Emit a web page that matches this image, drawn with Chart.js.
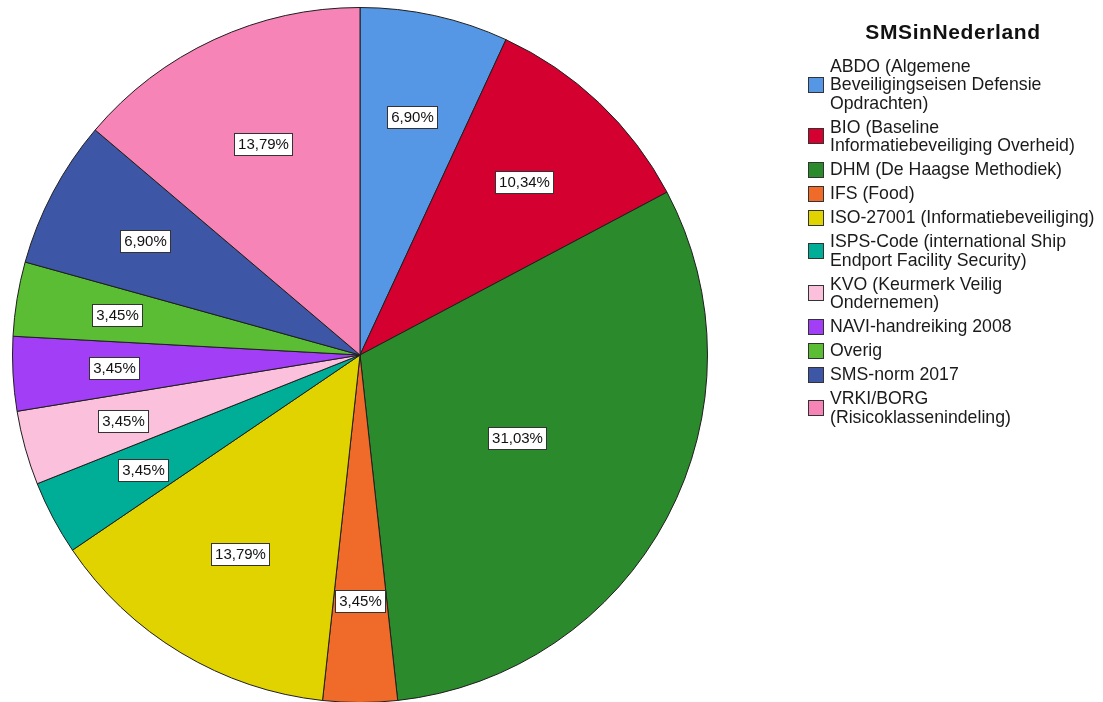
<!DOCTYPE html>
<html>
<head>
<meta charset="utf-8">
<script src="https://cdn.jsdelivr.net/npm/chart.js@4.4.1/dist/chart.umd.min.js"></script>
<style>
  html, body { margin: 0; padding: 0; background: #fff; overflow: hidden; }
  body { width: 1103px; height: 702px; position: relative; font-family: Arial, "Liberation Sans", sans-serif; }
  #wrap { position: absolute; left: 0; top: 0; width: 1103px; height: 720px; }
  #legendTitle {
    position: absolute; left: 803px; width: 300px; top: 20px;
    text-align: center; font-weight: bold; font-size: 21px; line-height: 24px;
    letter-spacing: 0.6px; color: #111;
  }
  #legend { position: absolute; left: 808px; top: 54px; width: 295px; }
  .item {
    position: relative; padding: 2.75px 0 2.75px 22px;
    font-size: 17.7px; line-height: 18.5px; color: #1a1a1a; white-space: nowrap;
  }
  .swatch {
    position: absolute; left: 0; top: 50%; width: 14px; height: 14px;
    margin-top: -8px; border: 1px solid #333;
  }
</style>
</head>
<body>
<div id="wrap"><canvas id="pie" width="1103" height="720"></canvas></div>
<div id="legendTitle">SMSinNederland</div>
<div id="legend"></div>

<script>
// categorieën (regels zoals in de legenda) en percentages
const categories = [
  ['ABDO (Algemene', 'Beveiligingseisen Defensie', 'Opdrachten)'],
  ['BIO (Baseline', 'Informatiebeveiliging Overheid)'],
  ['DHM (De Haagse Methodiek)'],
  ['IFS (Food)'],
  ['ISO-27001 (Informatiebeveiliging)'],
  ['ISPS-Code (international Ship', 'Endport Facility Security)'],
  ['KVO (Keurmerk Veilig', 'Ondernemen)'],
  ['NAVI-handreiking 2008'],
  ['Overig'],
  ['SMS-norm 2017'],
  ['VRKI/BORG', '(Risicoklassenindeling)']
];
const percentages = [6.90, 10.34, 31.03, 3.45, 13.79, 3.45, 3.45, 3.45, 3.45, 6.90, 13.79];
const legendTitle = 'SMSinNederland';

const colors = [
  '#5597e4', '#d4002f', '#2b8a2b', '#f06a2a', '#e1d300', '#00ae98',
  '#fbc0dc', '#a23ef5', '#5bbd34', '#3d56a6', '#f784b6'
];

const fmt = v => v.toFixed(2).replace('.', ',') + '%';

// labels in witte kaders binnen de taartpunten
const sliceLabels = {
  id: 'sliceLabels',
  afterDatasetsDraw(chart) {
    const ctx = chart.ctx;
    const meta = chart.getDatasetMeta(0);
    const values = chart.data.datasets[0].data;
    ctx.save();
    ctx.font = '15px Arial, "Liberation Sans", sans-serif';
    ctx.textAlign = 'center';
    ctx.textBaseline = 'middle';
    meta.data.forEach((arc, i) => {
      const p = arc.getProps(['x', 'y', 'startAngle', 'endAngle', 'outerRadius'], true);
      const half = (p.endAngle - p.startAngle) / 2;
      const mid = p.startAngle + half;
      // zwaartepunt van de sector; brede punten krijgen hun label verder naar binnen
      const c = 2 * Math.sin(half) / (3 * half);
      const r = p.outerRadius * 1.6 * c * c;
      const cx = p.x + Math.cos(mid) * r;
      const cy = p.y + Math.sin(mid) * r;
      const text = fmt(values[i]);
      const w = Math.round(ctx.measureText(text).width + 7);
      const h = 22;
      const x0 = Math.round(cx - w / 2) + 0.5;
      const y0 = Math.round(cy - h / 2) + 0.5;
      ctx.fillStyle = '#fff';
      ctx.fillRect(x0, y0, w, h);
      ctx.strokeStyle = '#333';
      ctx.lineWidth = 1;
      ctx.strokeRect(x0, y0, w, h);
      ctx.fillStyle = '#111';
      ctx.fillText(text, x0 + w / 2, y0 + h / 2 + 0.5);
    });
    ctx.restore();
  }
};

const chart = new Chart(document.getElementById('pie'), {
  type: 'pie',
  data: {
    labels: categories.map(l => l.join(' ')),
    datasets: [{
      data: percentages,
      backgroundColor: colors,
      borderColor: '#1e1e1e',
      borderWidth: 1
    }]
  },
  options: {
    responsive: false,
    animation: false,
    devicePixelRatio: 1,
    layout: { padding: { left: 12, right: 395, top: 7, bottom: 17 } },
    plugins: {
      legend: { display: false },
      tooltip: { enabled: false }
    }
  },
  plugins: [sliceLabels]
});

// legenda rechts, opgebouwd uit de data van de grafiek
document.getElementById('legendTitle').textContent = legendTitle;
const legendEl = document.getElementById('legend');
categories.forEach((lines, i) => {
  const item = document.createElement('div');
  item.className = 'item';
  const sw = document.createElement('span');
  sw.className = 'swatch';
  sw.style.background = chart.data.datasets[0].backgroundColor[i];
  item.appendChild(sw);
  lines.forEach((line, j) => {
    if (j) item.appendChild(document.createElement('br'));
    item.appendChild(document.createTextNode(line));
  });
  legendEl.appendChild(item);
});
</script>
</body>
</html>
